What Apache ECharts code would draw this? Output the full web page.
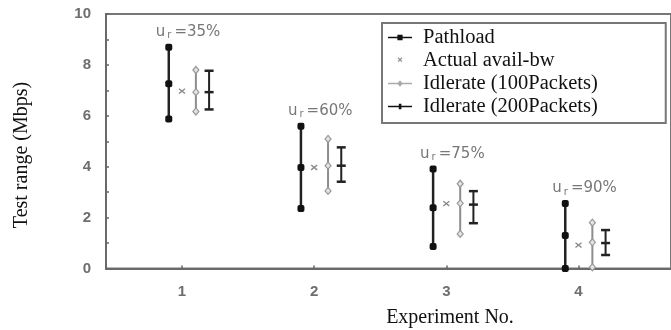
<!DOCTYPE html>
<html><head><meta charset="utf-8">
<script src="https://cdn.jsdelivr.net/npm/echarts@6/dist/echarts.min.js"></script>
<style>html,body{margin:0;padding:0;background:#fff}#c{width:671px;height:330px}</style>
</head><body><div id="c"></div>
<script>
// ---- data ----
const experiments = [1, 2, 3, 4];
const xTickLabels = ['1', '2', '3', '4'];
const utilisation = ['35%', '60%', '75%', '90%'];
const pathloadLow  = [5.87, 2.36, 0.86, 0.00];
const pathloadMid  = [7.26, 3.97, 2.39, 1.30];
const pathloadHigh = [8.69, 5.59, 3.91, 2.55];
const actualAvailBw = [6.97, 3.97, 2.55, 0.92];
const idle100Low  = [6.17, 3.05, 1.36, 0.05];
const idle100Mid  = [6.93, 4.04, 2.56, 1.03];
const idle100High = [7.80, 5.09, 3.33, 1.80];
const idle200Low  = [6.25, 3.41, 1.78, 0.53];
const idle200Mid  = [6.93, 4.04, 2.51, 1.00];
const idle200High = [7.77, 4.76, 3.04, 1.51];
const seriesNames = ['Pathload', 'Actual avail-bw', 'Idlerate (100Packets)', 'Idlerate (200Packets)'];

// ---- presentation ----
const OFF = [-0.1, 0, 0.105, 0.205];
function rows(off, a, b, c) {
  return experiments.map((e, i) => [e + off, a[i], b ? b[i] : a[i], c ? c[i] : a[i], i]);
}
function pts(api) {
  const x = api.value(0);
  return [api.coord([x, api.value(1)]), api.coord([x, api.value(2)]), api.coord([x, api.value(3)])];
}
const tickFont = {fontSize: 15, color: '#6e6e6e', fontWeight: 'bold', fontFamily: 'Liberation Sans'};

const chart = echarts.init(document.getElementById('c'), null, {renderer: 'canvas'});
chart.setOption({
  backgroundColor: '#fff',
  animation: false,
  grid: {left: 106, top: 14, bottom: 61.5, right: -8, show: true, borderColor: '#777', borderWidth: 2, backgroundColor: 'transparent'},
  xAxis: {
    type: 'value', min: 0.425, max: 4.7,
    axisLine: {lineStyle: {color: '#6a6a6a', width: 2}},
    axisTick: {show: true, inside: true, length: 3, customValues: experiments, lineStyle: {color: '#666', width: 1.5}},
    axisLabel: Object.assign({customValues: experiments, formatter: v => xTickLabels[experiments.indexOf(Math.round(v))], margin: 16}, tickFont),
    splitLine: {show: false}
  },
  yAxis: {
    type: 'value', min: 0, max: 10, interval: 2,
    axisLine: {show: true, lineStyle: {color: '#6a6a6a', width: 2}},
    axisTick: {show: true, inside: true, length: 3, lineStyle: {color: '#666', width: 1.5}},
    minorTick: {show: true, splitNumber: 2, length: 3, lineStyle: {color: '#666', width: 1.5}},
    axisLabel: Object.assign({margin: 15}, tickFont),
    splitLine: {show: false}
  },
  legend: {
    orient: 'vertical', left: 382, top: 23,
    padding: [4, 68, 6, 6], itemGap: 2, itemWidth: 24, itemHeight: 8,
    borderColor: '#777', borderWidth: 2, selectedMode: false,
    textStyle: {fontFamily: 'Liberation Serif', fontSize: 20.5, color: '#111', padding: [0, 0, 0, 6]},
    data: [
      {name: seriesNames[0], icon: 'path://M0,3.2h24v1.6h-24z M9.4,1.2h5.2v5.6h-5.2z', itemStyle: {color: '#111', borderWidth: 0}},
      {name: seriesNames[1], icon: 'path://M0,0 M24,8 M9.6,1.8L10.6,0.8L12,2.2L13.4,0.8L14.4,1.8L13,3.2L14.4,4.6L13.4,5.6L12,4.2L10.6,5.6L9.6,4.6L11,3.2Z', itemStyle: {color: '#999', borderWidth: 0}},
      {name: seriesNames[2], icon: 'path://M0,3.2h24v1.6h-24z M12,0.8L14.8,4L12,7.2L9.2,4z', itemStyle: {color: '#aaa', borderWidth: 0}},
      {name: seriesNames[3], icon: 'path://M0,3.2h24v1.6h-24z M10.8,1.2h2.6v5.6h-2.6z', itemStyle: {color: '#111', borderWidth: 0}}
    ]
  },
  graphic: [
    {type: 'text', x: 22, y: 155, rotation: Math.PI / 2, style: {text: 'Test range (Mbps)', font: '20px "Liberation Serif"', fill: '#111', align: 'center', verticalAlign: 'middle'}},
    {type: 'text', x: 450, y: 318, style: {text: 'Experiment No.', font: '20px "Liberation Serif"', fill: '#111', align: 'center', verticalAlign: 'middle'}}
  ],
  series: [
    {
      type: 'custom', name: seriesNames[0], itemStyle: {color: '#111'},
      data: rows(OFF[0], pathloadLow, pathloadMid, pathloadHigh),
      encode: {x: 0, y: [1, 2, 3]},
      renderItem: (params, api) => {
        const [pL, pM, pH] = pts(api);
        const i = api.value(4);
        const children = [{type: 'line', shape: {x1: pL[0], y1: pL[1], x2: pH[0], y2: pH[1]}, style: {stroke: '#222', lineWidth: 2.5}}];
        [pL, pM, pH].forEach(p => children.push({type: 'rect', shape: {x: p[0] - 3.5, y: p[1] - 3.5, width: 7, height: 7, r: 2}, style: {fill: '#111'}}));
        children.push({type: 'text', x: pH[0] - 13, y: pH[1] - 15, style: {
          text: '{u|u}{r|r}{t|=' + utilisation[i] + '}', align: 'left', verticalAlign: 'middle',
          rich: {
            u: {fontFamily: 'DejaVu Sans', fontSize: 15, fill: '#777'},
            r: {fontFamily: 'DejaVu Sans', fontSize: 10, fill: '#777', padding: [7, 3, 0, 2]},
            t: {fontFamily: 'DejaVu Sans', fontSize: 15, fill: '#777'}
          }
        }});
        return {type: 'group', children};
      }
    },
    {
      type: 'custom', name: seriesNames[1], itemStyle: {color: '#999'},
      data: rows(OFF[1], actualAvailBw),
      encode: {x: 0, y: 1},
      renderItem: (params, api) => {
        const p = api.coord([api.value(0), api.value(1)]);
        const s = 3;
        return {type: 'group', children: [
          {type: 'line', shape: {x1: p[0] - s, y1: p[1] - s * 0.8, x2: p[0] + s, y2: p[1] + s * 0.8}, style: {stroke: '#8a8a8a', lineWidth: 1.4}},
          {type: 'line', shape: {x1: p[0] - s, y1: p[1] + s * 0.8, x2: p[0] + s, y2: p[1] - s * 0.8}, style: {stroke: '#8a8a8a', lineWidth: 1.4}}
        ]};
      }
    },
    {
      type: 'custom', name: seriesNames[2], itemStyle: {color: '#aaa'},
      data: rows(OFF[2], idle100Low, idle100Mid, idle100High),
      encode: {x: 0, y: [1, 2, 3]},
      renderItem: (params, api) => {
        const [pL, pM, pH] = pts(api);
        const children = [{type: 'line', shape: {x1: pL[0], y1: pL[1], x2: pH[0], y2: pH[1]}, style: {stroke: '#8c8c8c', lineWidth: 2}}];
        [pL, pM, pH].forEach(p => children.push({type: 'polygon', shape: {points: [[p[0], p[1] - 3.5], [p[0] + 3, p[1]], [p[0], p[1] + 3.5], [p[0] - 3, p[1]]]}, style: {fill: '#e4e4e4', stroke: '#999', lineWidth: 1.2}}));
        return {type: 'group', children};
      }
    },
    {
      type: 'custom', name: seriesNames[3], itemStyle: {color: '#111'},
      data: rows(OFF[3], idle200Low, idle200Mid, idle200High),
      encode: {x: 0, y: [1, 2, 3]},
      renderItem: (params, api) => {
        const [pL, pM, pH] = pts(api);
        const children = [{type: 'line', shape: {x1: pL[0], y1: pL[1], x2: pH[0], y2: pH[1]}, style: {stroke: '#222', lineWidth: 2}}];
        [pL, pM, pH].forEach(p => children.push({type: 'line', shape: {x1: p[0] - 4.5, y1: p[1], x2: p[0] + 4.5, y2: p[1]}, style: {stroke: '#222', lineWidth: 2.5}}));
        return {type: 'group', children};
      }
    }
  ]
});
</script></body></html>
